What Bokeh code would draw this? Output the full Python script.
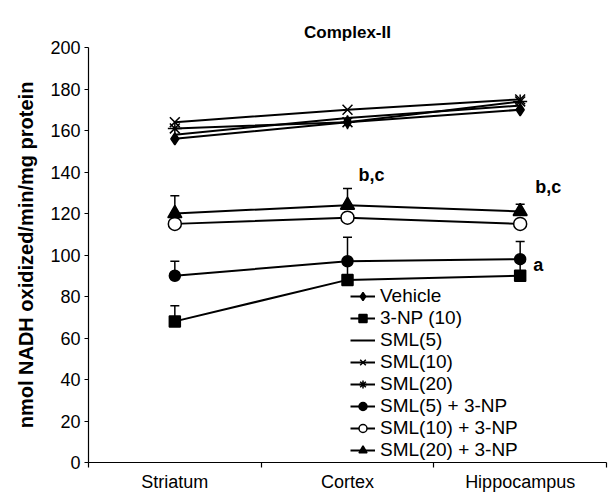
from bokeh.plotting import figure
from bokeh.models import (FixedTicker, Legend, LegendItem, Whisker, TeeHead,
                          ColumnDataSource, Label, Range1d)
from bokeh.embed import file_html
from bokeh.resources import INLINE

regions = ["Striatum", "Cortex", "Hippocampus"]
y_ticks = [0, 20, 40, 60, 80, 100, 120, 140, 160, 180, 200]

series_names = ["Vehicle", "3-NP (10)", "SML(5)", "SML(10)", "SML(20)",
                "SML(5) + 3-NP", "SML(10) + 3-NP", "SML(20) + 3-NP"]
vehicle = [156, 164, 170]
np10 = [68, 88, 90]
sml5 = [158, 166, 172]
sml10 = [164, 170, 175]
sml20 = [161, 164, 174]
sml5_np = [90, 97, 98]
sml10_np = [115, 118, 115]
sml20_np = [120, 124, 121]

np10_err = [7.5, 9, 8]
sml5_np_err = [7, 11.5, 8.5]
sml20_np_err = [8.5, 8, 3.5]

annot_texts = ["b,c", "b,c", "a"]
annot_region = [1, 2, 2]
annot_value = [132, 124.5, 98]

FONT = "Liberation Sans"

xs = [i + 0.5 for i in range(len(regions))]

p = figure(width=610, height=494, output_backend="svg", toolbar_location=None,
           x_range=Range1d(0, len(regions)), y_range=Range1d(0, 200),
           min_border_left=88, min_border_right=4, min_border_top=47,
           min_border_bottom=29, title="Complex-II")
p.title.text_font = FONT
p.title.text_font_size = "17px"
p.title.text_font_style = "bold"
p.title.text_color = "black"
p.title.align = "center"
p.title.vertical_align = "middle"
p.title.standoff = 10
p.outline_line_color = None
p.grid.visible = False
p.background_fill_color = "white"

p.xaxis.ticker = FixedTicker(ticks=xs, minor_ticks=list(range(len(regions) + 1)))
p.xaxis.major_label_overrides = {x: r for x, r in zip(xs, regions)}
p.xaxis.major_tick_line_color = None
p.xaxis.major_tick_out = 0
p.xaxis.major_tick_in = 0
p.xaxis.minor_tick_line_color = "black"
p.xaxis.minor_tick_out = 5
p.xaxis.minor_tick_in = 0
p.xaxis.major_label_standoff = 4
p.yaxis.ticker = FixedTicker(ticks=y_ticks)
p.yaxis.minor_tick_line_color = None
p.yaxis.major_tick_out = 4
p.yaxis.major_tick_in = 0
p.yaxis.major_label_standoff = 4
p.yaxis.axis_label = "nmol NADH oxidized/min/mg protein"
p.yaxis.axis_label_text_font = FONT
p.yaxis.axis_label_text_font_size = "20px"
p.yaxis.axis_label_text_font_style = "bold"
p.yaxis.axis_label_text_color = "black"
p.yaxis.axis_label_standoff = 10
for ax in (p.xaxis, p.yaxis):
    ax.major_label_text_font = FONT
    ax.major_label_text_font_size = "18px"
    ax.major_label_text_color = "black"
    ax.axis_line_color = "black"
    ax.axis_line_width = 1.2
    ax.major_tick_line_width = 1.2
    ax.minor_tick_line_width = 1.2

# error bars (upward only)
for vals, errs in [(np10, np10_err), (sml5_np, sml5_np_err), (sml20_np, sml20_np_err)]:
    src = ColumnDataSource(dict(x=xs, lo=vals, hi=[v + e for v, e in zip(vals, errs)]))
    w = Whisker(base="x", lower="lo", upper="hi", source=src,
                upper_head=TeeHead(size=9, line_width=1.5, line_color="black"),
                lower_head=None, line_width=1.5, line_color="black")
    p.add_layout(w)

styles = [
    ("diamond", 12, "black"),
    ("square", 11, "black"),
    (None, 0, "black"),
    ("x", 14, "black"),
    ("asterisk", 14, "black"),
    ("circle", 11, "black"),
    ("circle", 13, "white"),
    ("triangle", 14, "black"),
]
all_series = [vehicle, np10, sml5, sml10, sml20, sml5_np, sml10_np, sml20_np]

items = []
for name, vals, (mk, sz, fill) in zip(series_names, all_series, styles):
    r_line = p.line(xs, vals, line_color="black", line_width=2)
    rs = [r_line]
    if mk is not None:
        r_m = p.scatter(xs, vals, marker=mk, size=sz, fill_color=fill,
                        line_color="black", line_width=1.5)
        rs.append(r_m)
    items.append(LegendItem(label=name, renderers=rs))

offsets = [(11, 4, "bottom"), (15, 7, "bottom"), (13, -6, "middle")]
for t, ri, v, (dx, dy, bl) in zip(annot_texts, annot_region, annot_value, offsets):
    p.add_layout(Label(x=xs[ri], y=v, text=t, x_offset=dx, y_offset=dy,
                       text_font=FONT, text_font_size="18px",
                       text_font_style="bold", text_color="black",
                       text_baseline=bl))

legend = Legend(items=items, location=(262, 1), border_line_color=None,
                background_fill_alpha=0, padding=0, margin=0, spacing=0,
                glyph_width=25, glyph_height=20, label_height=20,
                label_standoff=5, label_text_font=FONT,
                label_text_font_size="19px", label_text_color="black")
p.add_layout(legend)

open("out.html", "w").write(file_html(p, INLINE))
